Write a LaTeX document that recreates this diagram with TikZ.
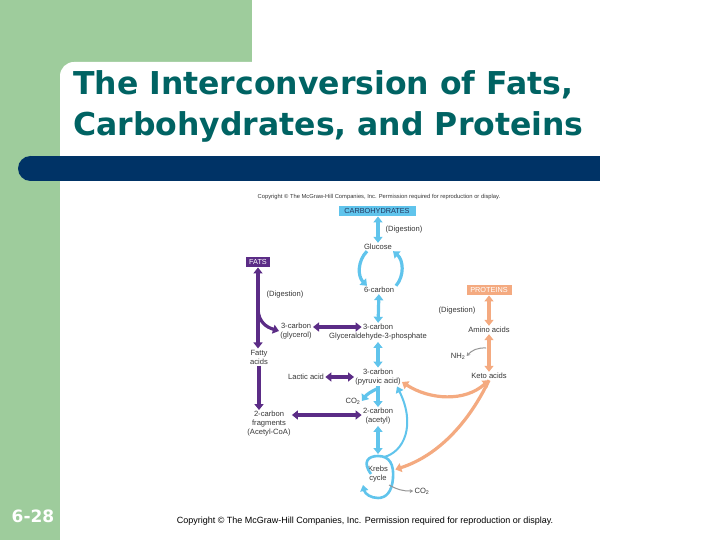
\documentclass[tikz,border=0pt]{standalone}
\usepackage{fontspec}
\setmainfont{Liberation Sans}
\newfontfamily\titlefont{DejaVu Sans}
\usetikzlibrary{arrows.meta, positioning}

\definecolor{slidegreen}{RGB}{158,204,156}
\definecolor{barnavy}{RGB}{0,51,102}
\definecolor{titleteal}{RGB}{0,99,99}
\definecolor{carbblue}{RGB}{96,196,236}
\definecolor{carbtext}{RGB}{35,55,95}
\definecolor{fatpurple}{RGB}{91,44,134}
\definecolor{protorange}{RGB}{244,170,128}
\definecolor{labelgray}{RGB}{55,55,55}
\definecolor{sidegray}{RGB}{150,150,150}

\tikzset{
  lbl/.style={font=\fontsize{7.6}{9}\selectfont, text=labelgray, align=center, inner sep=1.2pt},
  tag/.style={font=\fontsize{7.3}{8}\selectfont, inner sep=0pt, minimum height=10.5pt},
  titletext/.style={font=\titlefont\bfseries\fontsize{31.5}{41}\selectfont, text=titleteal, inner sep=0pt},
  onehead/.style={line width=3.2pt, -{Triangle[width=9pt,length=6pt]}},
  twohead/.style={line width=3.2pt, {Triangle[width=9pt,length=6pt]}-{Triangle[width=9pt,length=6pt]}},
  thinhead/.style={sidegray, line width=1pt, -{Stealth[width=4pt,length=3.5pt]}},
}

\begin{document}
\begin{tikzpicture}[x=1pt,y=-1pt]
\useasboundingbox (0,0) rectangle (720,540);
% slide frame
\fill[slidegreen] (0,0) rectangle (252,80);
\fill[slidegreen] (0,0) rectangle (60,540);
\fill[white, rounded corners=14pt] (60,62) rectangle (740,560);
\fill[barnavy] (30.5,156) rectangle (600,181);
\fill[barnavy] (30.5,168.5) circle[radius=12.5];

% title and footer
\node[titletext, anchor=base west] (title1) at (73,95) {The Interconversion of Fats,};
\node[titletext, anchor=base west] (title2) at (73,136) {Carbohydrates, and Proteins};
\node[font=\titlefont\bfseries\fontsize{17}{17}\selectfont, text=white, anchor=base, inner sep=0pt] (slideno) at (33,522) {6-28};
\node[font=\fontsize{9}{10}\selectfont] (footer) at (365,521) {Copyright \textcopyright{} The McGraw-Hill Companies, Inc. Permission required for reproduction or display.};

% figure labels
\node[lbl, font=\fontsize{5.8}{6}\selectfont] (figcopy) at (379,197) {Copyright \textcopyright{} The McGraw-Hill Companies, Inc. Permission required for reproduction or display.};

\node[tag, fill=carbblue, text=carbtext, minimum width=77pt] (carb) at (377,211) {CARBOHYDRATES};
\node[lbl] (digc) at (404,230) {(Digestion)};
\node[lbl] (gluc) at (378,247) {Glucose};
\node[lbl] (six) at (379,290) {6-carbon};
\node[lbl] (gapc) at (378,327) {3-carbon};
\node[lbl] (gapn) at (378,337) {Glyceraldehyde-3-phosphate};
\node[lbl] (pyr) at (378,377) {3-carbon\\(pyruvic acid)};
\node[lbl] (co2a) at (353,401) {CO\textsubscript{2}};
\node[lbl] (acet) at (378,416.5) {2-carbon\\(acetyl)};
\node[lbl] (krebs) at (378,474.5) {Krebs\\cycle};
\node[lbl] (co2b) at (422,491) {CO\textsubscript{2}};
\coordinate (krebstop) at (378,454);

\node[tag, fill=fatpurple, text=white, minimum width=24pt] (fats) at (258,262) {FATS};
\node[lbl] (digf) at (285,295) {(Digestion)};
\node[lbl] (glyc) at (296,331) {3-carbon\\(glycerol)};
\node[lbl] (fatty) at (259,357) {Fatty\\acids};
\node[lbl] (lactic) at (306,377) {Lactic acid};
\node[lbl] (frag) at (269,424) {2-carbon\\fragments\\(Acetyl-CoA)};
\coordinate (fatfork) at (258,310);

\node[tag, fill=protorange, text=white, minimum width=45pt] (prot) at (489,290) {PROTEINS};
\node[lbl] (digp) at (457,311) {(Digestion)};
\node[lbl] (amino) at (489,330) {Amino acids};
\node[lbl] (nh2) at (458,356) {NH\textsubscript{2}};
\node[lbl] (keto) at (489,376) {Keto acids};
\coordinate (nh2src) at (486,348);

% carbohydrate pathway
\draw[twohead, carbblue] (carb.south -| gluc.north) -- (gluc.north);
\draw[onehead, carbblue] ([xshift=-11pt]gluc.south) to[bend right=45] ([xshift=-12pt]six.north);
\draw[onehead, carbblue] ([xshift=17pt]six.north) to[bend right=45] ([xshift=15pt]gluc.south);
\draw[twohead, carbblue] (six) -- (gapc);
\draw[twohead, carbblue] (gapn) -- (pyr);
\draw[onehead, carbblue] (pyr) -- (acet);
\coordinate (pyrfork) at ([yshift=-2pt]pyr.south);
\draw[onehead, carbblue] (pyrfork) to[bend right=15] (co2a.east);
\draw[twohead, carbblue] (acet) -- (krebstop);
% Krebs loop
\draw[carbblue, line width=2.6pt, -{Triangle[width=8pt,length=6pt]}] (371,474) .. controls (362,462) and (368,456) .. (378,456) .. controls (390,456) and (394,465) .. (393,478) .. controls (392,492) and (386,498) .. (378,498) .. controls (371,498) and (365,494) .. (363,485);
\draw[carbblue, line width=2pt, -{Triangle[width=8pt,length=6pt]}] (384,457) .. controls (404,452) and (416,425) .. ([xshift=-5pt]pyr.south east);
\draw[thinhead] (389,485) to[bend right=15] (co2b.west);

% fat pathway
\draw[twohead, fatpurple] (fats.south) -- (fats.south |- fatty.north);
\draw[onehead, fatpurple] (fatfork) .. controls (259,322) and (266,327) .. (glyc.west);
\draw[twohead, fatpurple] ([yshift=4pt]glyc.east) -- (gapc.west);
\draw[onehead, fatpurple] (fatty.south) -- (fatty.south |- frag.north);
\draw[twohead, fatpurple] (lactic) -- (pyr);
\draw[twohead, fatpurple] ([yshift=9pt]frag.east) -- ([yshift=9pt]frag.east -| acet.west);

% protein pathway
\draw[twohead, protorange] (prot) -- (amino);
\draw[twohead, protorange] (amino) -- (keto);
\draw[thinhead] (nh2src) to[bend right=25] (nh2.east);
\draw[twohead, protorange] ([yshift=-5pt]pyr.east) .. controls (430,400) and (465,402) .. (keto.south);
\draw[onehead, protorange] (keto.south) .. controls (470,420) and (440,455) .. ([xshift=6pt,yshift=5pt]krebs.east);
\end{tikzpicture}
\end{document}
